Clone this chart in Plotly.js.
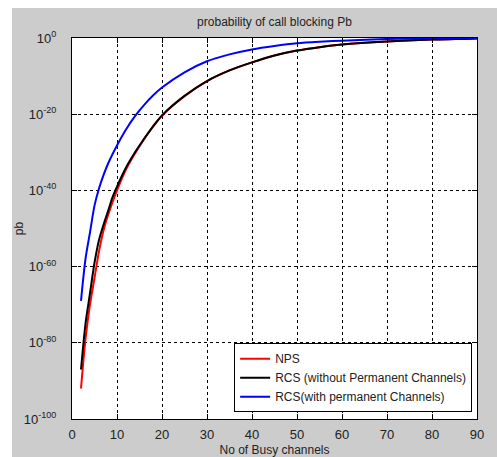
<!DOCTYPE html>
<html>
<head>
<meta charset="utf-8">
<script src="https://cdn.plot.ly/plotly-3.0.1.min.js"></script>
<style>
html,body{margin:0;padding:0;background:#ffffff;width:497px;height:457px;overflow:hidden;}
#chart{position:absolute;left:12px;top:8px;width:485px;height:449px;}
</style>
</head>
<body>
<div id="chart"></div>
<script>
// x values: number of busy channels
const xNPS   = [2, 3, 4, 5, 6, 7, 8, 10, 12, 15, 18, 20, 25, 30, 35, 40, 45, 50, 55, 60, 70, 80, 90];
// log10 of Pb
const logNPS = [-92, -79, -70, -63, -56, -50.5, -46.5, -40, -34.5, -28.4, -23.3, -20.4, -15.3, -11.3, -8.5, -6.4, -4.6, -3.3, -2.4, -1.7, -0.9, -0.4, -0.1];

const xRCS   = [2, 3, 4, 5, 6, 7, 8, 9, 10, 12, 14, 15, 18, 20, 25, 30, 35, 40, 45, 50, 55, 60, 70, 80, 90];
const logRCS = [-87, -75, -67, -59, -53, -49, -45.5, -41.8, -39, -34, -30, -28.2, -23.2, -20.3, -15.2, -11.3, -8.5, -6.4, -4.6, -3.3, -2.4, -1.7, -0.9, -0.4, -0.1];

const xRCSP   = [2, 3, 4, 5, 6, 7, 8, 10, 12, 14, 16, 18, 20, 25, 30, 35, 40, 45, 50, 55, 60, 70, 80, 90];
const logRCSP = [-69, -58, -51, -44, -39.5, -36, -33, -28.2, -24, -20.5, -17.6, -15.1, -13, -9, -6.1, -4.3, -3.0, -2.1, -1.4, -1.0, -0.7, -0.25, -0.08, -0.02];

const names = ['NPS', 'RCS (without Permanent Channels)', 'RCS(with permanent Channels)'];
const xTicks = [0, 10, 20, 30, 40, 50, 60, 70, 80, 90];
const yTickExp = [-100, -80, -60, -40, -20, 0];

const pow = a => a.map(v => Math.pow(10, v));

const traces = [
  {x: xNPS, y: pow(logNPS), name: names[0], mode: 'lines', line: {color: '#ff0000', width: 2, shape: 'spline', smoothing: 0.8}},
  {x: xRCS, y: pow(logRCS), name: names[1], mode: 'lines', line: {color: '#000000', width: 2, shape: 'spline', smoothing: 0.8}},
  {x: xRCSP, y: pow(logRCSP), name: names[2], mode: 'lines', line: {color: '#0000ff', width: 2, shape: 'spline', smoothing: 0.8}}
];

const fnt = {family: 'Liberation Sans, Arial, sans-serif', size: 12, color: '#222222'};
const tfnt = {family: 'Liberation Sans, Arial, sans-serif', size: 13, color: '#222222'};

const layout = {
  width: 485, height: 449,
  paper_bgcolor: '#cccccc',
  plot_bgcolor: '#ffffff',
  margin: {l: 60, r: 20, t: 30, b: 38},
  font: fnt,
  showlegend: true,
  title: {text: 'probability of call blocking Pb', font: {family: fnt.family, size: 12, color: '#222'}, x: 0.5, xref: 'paper', xanchor: 'center', y: 0.969, yref: 'container', yanchor: 'middle'},
  xaxis: {
    range: [0, 90], tickvals: xTicks, ticktext: xTicks.map(String),
    showline: true, linecolor: '#000', linewidth: 1, mirror: 'ticks',
    ticks: 'inside', ticklen: 5, tickcolor: '#000',
    showgrid: true, gridcolor: '#000', griddash: '3px,3px', gridwidth: 1,
    zeroline: false, ticklabelstandoff: 3,
    title: {text: 'No of Busy channels', font: fnt, standoff: 8},
    tickfont: tfnt
  },
  yaxis: {
    type: 'log', range: [-100, 0],
    tickvals: pow(yTickExp), ticktext: yTickExp.map(e => '10<sup>' + e + '</sup>'),
    showline: true, linecolor: '#000', linewidth: 1, mirror: 'ticks',
    ticks: 'inside', ticklen: 5, tickcolor: '#000',
    showgrid: true, gridcolor: '#000', griddash: '3px,3px', gridwidth: 1,
    zeroline: false, ticklabelstandoff: 12,
    title: {text: 'pb', font: fnt, standoff: 6},
    tickfont: tfnt
  },
  legend: {
    x: 0.988, y: 0.018, xanchor: 'right', yanchor: 'bottom',
    bgcolor: '#ffffff', bordercolor: '#000', borderwidth: 1,
    font: fnt, itemwidth: 30, tracegroupgap: 0
  }
};

Plotly.newPlot('chart', traces, layout, {displayModeBar: false, staticPlot: true});
</script>
</body>
</html>
